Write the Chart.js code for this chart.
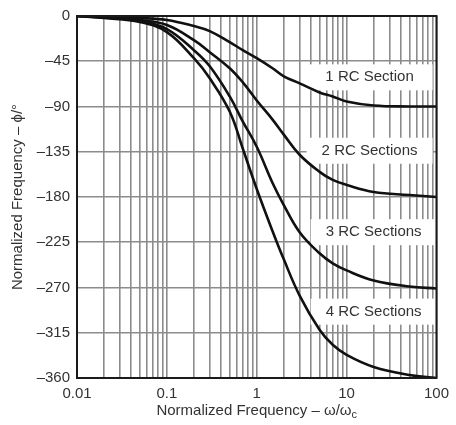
<!DOCTYPE html>
<html>
<head>
<meta charset="utf-8">
<script src="https://cdn.jsdelivr.net/npm/chart.js@4.4.1/dist/chart.umd.min.js"></script>
<style>
  html, body { margin: 0; padding: 0; background: #fff; }
  #wrap { width: 456px; height: 425px; position: relative; }
</style>
</head>
<body>
<div id="wrap"><canvas id="phaseChart"></canvas></div>
<script>
// Phase response of cascaded RC sections
var freq   = [0.01, 0.02, 0.05, 0.1, 0.2, 0.3, 0.5, 0.7, 1, 1.5, 2, 3, 5, 7, 10, 20, 50, 100];
var phase1 = [0, -0.5, -2, -4, -10, -15, -26, -34, -42, -52, -60, -67, -76, -80, -85, -89, -90, -90];
var phase2 = [0, -1, -4, -9, -24, -36, -52, -66, -84, -103, -118, -138, -155, -163, -168, -175, -178, -180];
var phase3 = [0, -1.5, -5, -13, -34, -50, -80, -105, -130, -166, -188, -215, -236, -246, -253, -263, -269, -271];
var phase4 = [0, -2, -6, -16, -42, -62, -95, -132, -172, -214, -242, -278, -312, -327, -337, -349, -357, -360];

var xTicks = [0.01, 0.1, 1, 10, 100];
var yMin = -360, yMax = 0, yStep = 45;

var curveLabels = ['1 RC Section', '2 RC Sections', '3 RC Sections', '4 RC Sections'];
var labelFreq   = [18, 18, 20, 20];
var labelPhase  = [-61, -134, -215, -294];

var FONT = "'Liberation Sans', Arial, sans-serif";
Chart.defaults.font.family = FONT;
Chart.defaults.font.size = 15;
Chart.defaults.color = '#333';

function toPoints(ys) {
    return freq.map(function (f, i) { return { x: f, y: ys[i] }; });
}

function curve(ys) {
    return {
        data: toPoints(ys), borderColor: '#111', borderWidth: 2.6,
        pointRadius: 0, fill: false, tension: 0.4
    };
}

// white boxes behind the curve names, then frame and axis titles
var annotate = {
    id: 'annotate',
    beforeDatasetsDraw: function (chart) {
        var ctx = chart.ctx, xs = chart.scales.x, ys = chart.scales.y;
        ctx.save();
        ctx.font = '15px ' + FONT;
        ctx.textAlign = 'center';
        ctx.textBaseline = 'middle';
        for (var i = 0; i < curveLabels.length; i++) {
            var cx = xs.getPixelForValue(labelFreq[i]);
            var cy = ys.getPixelForValue(labelPhase[i]);
            ctx.fillStyle = '#fff';
            ctx.fillRect(cx - 63, cy - 13, 126, 26);
            ctx.fillStyle = '#333';
            ctx.fillText(curveLabels[i], cx, cy);
        }
        ctx.restore();
    },
    afterDatasetsDraw: function (chart) {
        var ctx = chart.ctx, a = chart.chartArea;
        ctx.save();
        ctx.strokeStyle = '#1a1a1a';
        ctx.lineWidth = 2;
        ctx.strokeRect(a.left, a.top, a.right - a.left, a.bottom - a.top);

        ctx.fillStyle = '#333';
        ctx.textBaseline = 'middle';
        // x title with subscript c
        var main = 'Normalized Frequency \u2013 \u03c9/\u03c9';
        ctx.font = '15px ' + FONT;
        var w1 = ctx.measureText(main).width;
        ctx.font = '11px ' + FONT;
        var w2 = ctx.measureText('c').width;
        var sx = (a.left + a.right) / 2 - (w1 + w2) / 2;
        ctx.textAlign = 'left';
        ctx.font = '15px ' + FONT;
        ctx.fillText(main, sx, 411);
        ctx.font = '11px ' + FONT;
        ctx.fillText('c', sx + w1, 415);

        // y title
        ctx.translate(18, (a.top + a.bottom) / 2);
        ctx.rotate(-Math.PI / 2);
        ctx.textAlign = 'center';
        ctx.font = '15px ' + FONT;
        ctx.fillText('Normalized Frequency \u2013 \u03d5/\u00b0', 0, 0);
        ctx.restore();
    }
};

new Chart(document.getElementById('phaseChart').getContext('2d'), {
    type: 'line',
    data: { datasets: [curve(phase1), curve(phase2), curve(phase3), curve(phase4)] },
    options: {
        responsive: true, maintainAspectRatio: false, animation: false,
        layout: { padding: { left: 0, right: 15, top: 12, bottom: 0 } },
        plugins: { legend: { display: false }, tooltip: { enabled: false } },
        scales: {
            x: {
                type: 'logarithmic', min: xTicks[0], max: xTicks[xTicks.length - 1],
                afterBuildTicks: function (axis) {
                    var t = [];
                    for (var i = 0; i < xTicks.length - 1; i++) {
                        for (var m = 1; m < 10; m++) t.push({ value: m * xTicks[i] });
                    }
                    t.push({ value: xTicks[xTicks.length - 1] });
                    axis.ticks = t;
                },
                afterFit: function (axis) { axis.height = 47; },
                ticks: {
                    autoSkip: false, maxRotation: 0, padding: 7, color: '#333',
                    callback: function (v) {
                        var lg = Math.log10(v);
                        if (Math.abs(lg - Math.round(lg)) > 1e-6) return '';
                        return String(xTicks[Math.round(lg) + 2]);
                    }
                },
                grid: { color: '#8c8c8c', lineWidth: 1.6, drawTicks: false },
                border: { display: false }
            },
            y: {
                min: yMin, max: yMax,
                afterFit: function (axis) { axis.width = 77; },
                ticks: {
                    stepSize: yStep, padding: 7, color: '#333',
                    callback: function (v) { return v < 0 ? '\u2013' + Math.abs(v) : '0'; }
                },
                grid: { color: '#8c8c8c', lineWidth: 1.6, drawTicks: false },
                border: { display: false }
            }
        }
    },
    plugins: [annotate]
});
</script>
</body>
</html>
